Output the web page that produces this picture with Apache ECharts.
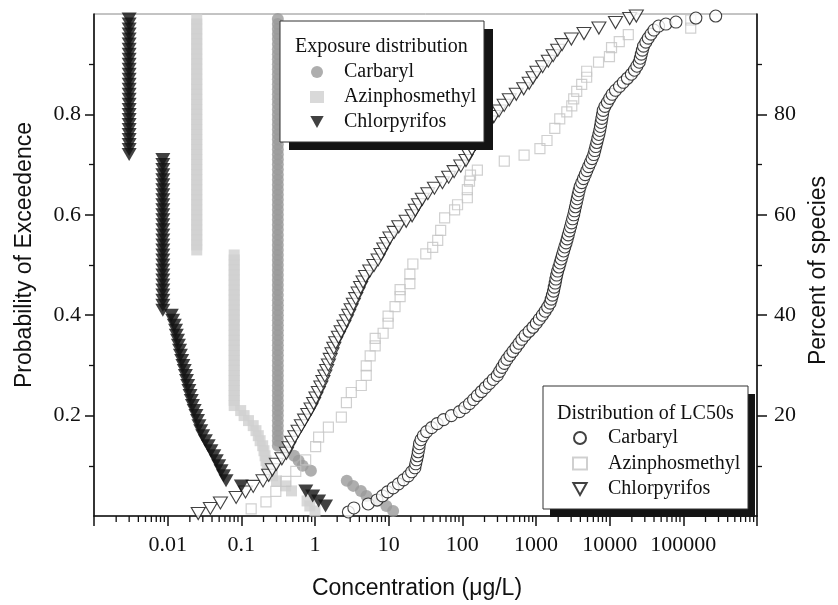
<!DOCTYPE html>
<html><head><meta charset="utf-8">
<script src="https://cdn.jsdelivr.net/npm/echarts@6/dist/echarts.min.js"></script>
<style>html,body{margin:0;padding:0;background:#fff}#c{width:838px;height:605px}</style>
</head><body><div id="c"></div>
<script>
// ---------- tick labels ----------
const xTickValues = [0.01, 0.1, 1, 10, 100, 1000, 10000, 100000];
const xTickLabels = ['0.01', '0.1', '1', '10', '100', '1000', '10000', '100000'];
const leftTickValues = [0.2, 0.4, 0.6, 0.8];
const rightTickValues = [20, 40, 60, 80];
const compoundNames = ['Carbaryl', 'Azinphosmethyl', 'Chlorpyrifos'];

// ---------- Exposure distributions: [concentration µg/L, probability of exceedence] ----------
const exposureCarbaryl = [
[0.313,0.99],[0.313,0.98],[0.313,0.97],[0.313,0.96],[0.313,0.95],[0.313,0.94],[0.313,0.93],[0.313,0.92],[0.313,0.91],
[0.313,0.9],[0.313,0.89],[0.313,0.88],[0.313,0.87],[0.313,0.86],[0.313,0.85],[0.313,0.84],[0.313,0.83],[0.313,0.82],[0.313,0.81],
[0.313,0.8],[0.313,0.79],[0.313,0.78],[0.313,0.77],[0.313,0.76],[0.313,0.75],[0.313,0.74],[0.313,0.73],[0.313,0.72],[0.313,0.71],
[0.313,0.7],[0.313,0.69],[0.313,0.68],[0.313,0.67],[0.313,0.66],[0.313,0.65],[0.313,0.64],[0.313,0.63],[0.313,0.62],[0.313,0.61],
[0.313,0.6],[0.313,0.59],[0.313,0.58],[0.313,0.57],[0.313,0.56],[0.313,0.55],[0.313,0.54],[0.313,0.53],[0.313,0.52],[0.313,0.51],
[0.313,0.5],[0.313,0.49],[0.313,0.48],[0.313,0.47],[0.313,0.46],[0.313,0.45],[0.313,0.44],[0.313,0.43],[0.313,0.42],[0.313,0.41],
[0.313,0.4],[0.313,0.39],[0.313,0.38],[0.313,0.37],[0.313,0.36],[0.313,0.35],[0.313,0.34],[0.313,0.33],[0.313,0.32],[0.313,0.31],
[0.313,0.3],[0.313,0.29],[0.313,0.28],[0.313,0.27],[0.313,0.26],[0.313,0.25],[0.313,0.24],[0.313,0.23],[0.313,0.22],[0.313,0.21],
[0.313,0.2],[0.313,0.19],[0.313,0.18],[0.313,0.17],[0.313,0.16],[0.313,0.15],[0.313,0.14],
[0.40,0.13],[0.52,0.12],[0.60,0.11],[0.68,0.10],[0.88,0.09],[2.7,0.07],[3.3,0.06],[4.2,0.05],[5.0,0.04],[7.0,0.03],[9.3,0.02],[11.5,0.01]
];
const exposureAzinphosmethyl = [
[0.0248,0.99],[0.0248,0.98],[0.0248,0.97],[0.0248,0.96],[0.0248,0.95],[0.0248,0.94],[0.0248,0.93],[0.0248,0.92],[0.0248,0.91],
[0.0248,0.9],[0.0248,0.89],[0.0248,0.88],[0.0248,0.87],[0.0248,0.86],[0.0248,0.85],[0.0248,0.84],[0.0248,0.83],[0.0248,0.82],[0.0248,0.81],
[0.0248,0.8],[0.0248,0.79],[0.0248,0.78],[0.0248,0.77],[0.0248,0.76],[0.0248,0.75],[0.0248,0.74],[0.0248,0.73],[0.0248,0.72],[0.0248,0.71],
[0.0248,0.7],[0.0248,0.69],[0.0248,0.68],[0.0248,0.67],[0.0248,0.66],[0.0248,0.65],[0.0248,0.64],[0.0248,0.63],[0.0248,0.62],[0.0248,0.61],
[0.0248,0.6],[0.0248,0.59],[0.0248,0.58],[0.0248,0.57],[0.0248,0.56],[0.0248,0.55],[0.0248,0.54],[0.0248,0.53],
[0.080,0.52],[0.080,0.51],[0.080,0.5],[0.080,0.49],[0.080,0.48],[0.080,0.47],[0.080,0.46],[0.080,0.45],[0.080,0.44],[0.080,0.43],
[0.080,0.42],[0.080,0.41],[0.080,0.4],[0.080,0.39],[0.080,0.38],[0.080,0.37],[0.080,0.36],[0.080,0.35],[0.080,0.34],[0.080,0.33],
[0.080,0.32],[0.080,0.31],[0.080,0.3],[0.080,0.29],[0.080,0.28],[0.080,0.27],[0.080,0.26],[0.080,0.25],[0.080,0.24],[0.080,0.23],[0.080,0.22],
[0.098,0.21],[0.109,0.20],[0.125,0.19],[0.145,0.18],[0.158,0.17],[0.170,0.16],[0.180,0.15],[0.195,0.14],[0.203,0.13],[0.210,0.12],
[0.216,0.11],[0.225,0.10],[0.237,0.09],[0.265,0.08],[0.30,0.07],[0.40,0.06],[0.48,0.05],[0.78,0.03],[0.85,0.02],[1.0,0.01]
];
const exposureChlorpyrifos = [
[0.003,0.99],[0.003,0.98],[0.003,0.97],[0.003,0.96],[0.003,0.95],[0.003,0.94],[0.003,0.93],[0.003,0.92],[0.003,0.91],
[0.003,0.9],[0.003,0.89],[0.003,0.88],[0.003,0.87],[0.003,0.86],[0.003,0.85],[0.003,0.84],[0.003,0.83],[0.003,0.82],[0.003,0.81],
[0.003,0.8],[0.003,0.79],[0.003,0.78],[0.003,0.77],[0.003,0.76],[0.003,0.75],[0.003,0.74],[0.003,0.73],[0.003,0.72],
[0.0086,0.71],[0.0086,0.7],[0.0086,0.69],[0.0086,0.68],[0.0086,0.67],[0.0086,0.66],[0.0086,0.65],[0.0086,0.64],[0.0086,0.63],[0.0086,0.62],
[0.0086,0.61],[0.0086,0.6],[0.0086,0.59],[0.0086,0.58],[0.0086,0.57],[0.0086,0.56],[0.0086,0.55],[0.0086,0.54],[0.0086,0.53],[0.0086,0.52],
[0.0086,0.51],[0.0086,0.5],[0.0086,0.49],[0.0086,0.48],[0.0086,0.47],[0.0086,0.46],[0.0086,0.45],[0.0086,0.44],[0.0086,0.43],[0.0086,0.42],[0.0086,0.41],
[0.0112,0.40],[0.0117,0.39],[0.0123,0.38],[0.0128,0.37],[0.0131,0.36],[0.0136,0.35],[0.014,0.34],[0.0145,0.33],[0.0149,0.32],[0.0155,0.31],
[0.0161,0.30],[0.0168,0.29],[0.0174,0.28],[0.018,0.27],[0.0187,0.26],[0.0194,0.25],[0.0201,0.24],[0.0209,0.23],[0.0217,0.22],[0.0229,0.21],
[0.0242,0.20],[0.0254,0.19],[0.0266,0.18],[0.0281,0.17],[0.0299,0.16],[0.0325,0.15],[0.0355,0.14],[0.0387,0.13],[0.0423,0.12],[0.0457,0.11],
[0.0493,0.10],[0.0531,0.09],[0.0573,0.08],[0.062,0.07],[0.10,0.06],[0.75,0.05],[0.93,0.04],[1.12,0.03],[1.39,0.02]
];

// ---------- Distributions of LC50s: [LC50 µg/L, percent of species] ----------
const lc50Carbaryl = [
[2.84,0.8],[3.37,1.6],[5.27,2.4],[6.95,3.2],[8.24,4.0],[9.64,4.8],[11.5,5.6],[13.6,6.4],[15.9,7.2],[18.5,8.0],
[20.5,8.8],[22.7,9.6],[23.3,10.4],[24.0,11.2],[24.7,12.0],[25.2,12.8],[25.8,13.6],[26.2,14.4],[27.5,15.2],[29.6,16.0],
[32.8,16.8],[38.3,17.6],[45.5,18.4],[55.7,19.2],[71.0,20.0],[91.6,20.8],[108,21.6],[125,22.4],[142,23.2],[160,24.0],
[182,24.8],[206,25.6],[233,26.4],[263,27.2],[298,28.0],[321,28.8],[346,29.6],[373,30.4],[403,31.2],[442,32.0],
[486,32.8],[535,33.6],[587,34.4],[643,35.2],[711,36.0],[805,36.8],[910,37.6],[1010,38.4],[1110,39.2],[1220,40.0],
[1330,40.8],[1440,41.6],[1550,42.4],[1610,43.2],[1670,44.0],[1730,44.8],[1770,45.6],[1820,46.4],[1860,47.2],[1910,48.0],
[1970,48.8],[2050,49.6],[2120,50.4],[2200,51.2],[2280,52.0],[2370,52.8],[2460,53.6],[2560,54.4],[2650,55.2],[2740,56.0],
[2840,56.8],[2940,57.6],[3040,58.4],[3140,59.2],[3250,60.0],[3340,60.8],[3430,61.6],[3530,62.4],[3630,63.2],[3730,64.0],
[3840,64.8],[3970,65.6],[4180,66.4],[4410,67.2],[4650,68.0],[4900,68.8],[5170,69.6],[5470,70.4],[5770,71.2],[6080,72.0],
[6280,72.8],[6480,73.6],[6690,74.4],[6900,75.2],[7130,76.0],[7330,76.8],[7500,77.6],[7660,78.4],[7830,79.2],[8000,80.0],
[8170,80.8],[8630,81.6],[9310,82.4],[10000,83.2],[10800,84.0],[12000,84.8],[13600,85.6],[15300,86.4],[17400,87.2],[19700,88.0],
[21700,88.8],[23400,89.6],[25200,90.4],[26100,91.2],[26900,92.0],[27800,92.8],[28800,93.6],[31000,94.4],[33400,95.2],[36400,96.0],
[39900,96.8],[46200,97.6],[58000,98.0],[79400,98.4],[148000,99.2],[275000,99.6]
];
const lc50Azinphosmethyl = [
[0.136,1.4],[0.216,2.8],[0.294,4.9],[0.402,6.9],[0.548,8.9],[0.747,11.2],[1.02,13.8],[1.12,15.7],[1.52,17.7],[2.28,19.7],
[2.67,22.6],[3.11,24.6],[4.25,26.0],[4.96,28.0],[4.96,29.9],[5.61,31.9],[6.56,33.9],[6.56,35.4],[8.41,36.4],[9.82,38.4],
[9.82,39.8],[12.2,41.7],[14.3,43.7],[14.3,45.1],[19.4,46.3],[19.4,48.2],[21.3,50.2],[31.9,52.2],[39.6,53.5],[46.3,54.9],
[50.8,56.9],[57.5,59.4],[78.5,61.0],[86.1,62.0],[117,63.4],[117,65.0],[125,66.7],[129,67.9],[160,68.9],[371,70.7],
[689,71.9],[1130,73.2],[1410,74.8],[1800,77.2],[2100,79.1],[2620,80.5],[3060,81.7],[3250,83.1],[3570,84.6],[4170,86.0],
[4870,87.4],[4870,88.6],[7060,90.4],[9930,91.5],[10600,93.3],[13500,94.5],[17900,95.9],[126000,97.2],[126000,98.8]
];
const lc50Chlorpyrifos = [
[0.026,0.5],[0.038,1.5],[0.052,2.6],[0.085,3.7],[0.114,4.8],[0.145,5.9],[0.197,7.0],[0.235,8.1],[0.264,9.2],[0.299,10.3],
[0.355,11.4],[0.41,12.5],[0.444,13.6],[0.481,14.7],[0.532,15.8],[0.589,16.9],[0.653,18.0],[0.722,19.1],[0.798,20.2],[0.883,21.3],
[0.957,22.4],[1.03,23.5],[1.11,24.6],[1.20,25.7],[1.28,26.8],[1.36,27.9],[1.44,29.0],[1.52,30.1],[1.61,31.2],[1.70,32.3],
[1.80,33.4],[1.91,34.5],[2.08,35.6],[2.26,36.7],[2.47,37.8],[2.67,38.9],[2.87,40.0],[3.09,41.1],[3.32,42.2],[3.57,43.3],
[3.85,44.4],[4.16,45.5],[4.49,46.6],[4.86,47.7],[5.54,48.8],[6.31,49.9],[7.19,51.0],[7.85,52.1],[8.57,53.2],[9.35,54.3],
[10.4,55.4],[11.9,56.5],[13.7,57.6],[17.3,58.7],[20.8,59.8],[23.0,60.9],[25.4,62.0],[28.6,63.1],[34.0,64.2],[41.8,65.3],
[53.7,66.4],[65.2,67.5],[77.3,68.6],[95.3,69.7],[112,70.8],[122,71.9],[135,73.0],[151,74.1],[169,75.2],[189,76.3],
[213,77.4],[239,78.5],[269,79.6],[315,80.7],[370,81.8],[434,82.9],[540,84.0],[681,85.1],[809,86.2],[912,87.3],
[1030,88.4],[1230,89.5],[1470,90.6],[1710,91.7],[1970,92.8],[2260,93.9],[3020,95.0],[4480,96.1],[7140,97.2],[12000,98.3],
[18700,99.1],[23000,99.6]
];

// ---------- chart ----------
const serif = 'Liberation Serif';
const sans = 'Liberation Sans';
const ink = '#111111';
const downTri = 'path://M0,0L10,0L5,9Z';

// minor log ticks (2..9 within each decade of the axis range)
const minorTicks = [];
for (let d = -3; d <= 5; d++) for (let k = 2; k <= 9; k++) minorTicks.push([k * Math.pow(10, d), 0]);

const chart = echarts.init(document.getElementById('c'), null, {renderer: 'canvas'});
const option = {
  animation: false,
  backgroundColor: '#ffffff',
  grid: {left: 94, right: 76, top: 14, bottom: 83, show: true, borderColor: '#888', borderWidth: 1, backgroundColor: 'transparent'},
  xAxis: {
    type: 'log', logBase: 10, min: 0.001, max: 1000000, interval: 1,
    axisLine: {show: true, onZero: false, lineStyle: {color: ink, width: 1.6}},
    axisTick: {show: true, length: 10, lineStyle: {color: ink, width: 1.5}},
    axisLabel: {margin: 18, fontFamily: serif, fontSize: 22, color: ink,
      formatter: v => { const i = xTickValues.findIndex(t => Math.abs(Math.log10(t) - Math.log10(v)) < 1e-6); return i < 0 ? '' : xTickLabels[i]; }},
    splitLine: {show: false},
    name: 'Concentration (μg/L)', nameLocation: 'middle', nameGap: 61,
    nameTextStyle: {fontFamily: sans, fontSize: 23, color: ink, padding: [0, 17, 0, 0]}
  },
  yAxis: [
    {
      type: 'value', position: 'left', min: 0, max: 1, interval: 0.2,
      axisLine: {show: true, lineStyle: {color: ink, width: 1.6}},
      axisTick: {show: true, length: 9, lineStyle: {color: ink, width: 1.5}, customValues: leftTickValues},
      minorTick: {show: true, splitNumber: 2, length: 5, lineStyle: {color: ink, width: 1.3}},
      splitLine: {show: false}, minorSplitLine: {show: false},
      axisLabel: {margin: 13, fontFamily: serif, fontSize: 22, color: ink, customValues: leftTickValues,
        formatter: v => (v > 0.01 && v < 0.99) ? v.toFixed(1) : ''},
      name: 'Probability of Exceedence', nameLocation: 'middle', nameGap: 58, nameRotate: 90,
      nameTextStyle: {fontFamily: sans, fontSize: 23, color: ink, padding: [0, 0, 0, 20]}
    },
    {
      type: 'value', position: 'right', min: 0, max: 100, interval: 20,
      axisLine: {show: true, lineStyle: {color: ink, width: 1.6}},
      axisTick: {show: true, length: 10, lineStyle: {color: ink, width: 1.5}, customValues: rightTickValues},
      minorTick: {show: true, splitNumber: 2, length: 5, lineStyle: {color: ink, width: 1.3}},
      splitLine: {show: false}, minorSplitLine: {show: false},
      axisLabel: {margin: 17, fontFamily: serif, fontSize: 22, color: ink, customValues: rightTickValues,
        formatter: v => (v > 1 && v < 99) ? String(v) : ''},
      name: 'Percent of species', nameLocation: 'middle', nameGap: 50, nameRotate: 90,
      nameTextStyle: {fontFamily: sans, fontSize: 23, color: ink, padding: [0, 11, 0, 0]}
    }
  ],
  legend: [
    {
      data: compoundNames.map(n => 'E|' + n), orient: 'vertical', left: 310, top: 62,
      itemWidth: 14, itemHeight: 12, itemGap: 5, padding: 0, z: 20, selectedMode: false,
      formatter: n => n.split('|')[1],
      textStyle: {fontFamily: serif, fontSize: 20, color: ink, lineHeight: 20, padding: [0, 0, 0, 15]}
    },
    {
      data: compoundNames.map(n => 'L|' + n), orient: 'vertical', left: 572, top: 428,
      itemWidth: 14, itemHeight: 12, itemGap: 5.5, padding: 0, z: 20, selectedMode: false,
      formatter: n => n.split('|')[1],
      textStyle: {fontFamily: serif, fontSize: 20, color: ink, lineHeight: 20, padding: [0, 0, 0, 16]}
    }
  ],
  graphic: [
    {type: 'rect', z: 10, shape: {x: 289, y: 29, width: 204, height: 121}, style: {fill: '#141414'}},
    {type: 'rect', z: 11, shape: {x: 280, y: 21, width: 204, height: 121}, style: {fill: '#fff', stroke: '#333', lineWidth: 1}},
    {type: 'text', z: 21, x: 295, y: 47, style: {text: 'Exposure distribution', font: '20px "Liberation Serif"', fill: ink, verticalAlign: 'middle'}},
    {type: 'rect', z: 10, shape: {x: 550, y: 394, width: 205, height: 123}, style: {fill: '#141414'}},
    {type: 'rect', z: 11, shape: {x: 543, y: 386, width: 205, height: 123}, style: {fill: '#fff', stroke: '#333', lineWidth: 1}},
    {type: 'text', z: 21, x: 557, y: 414, style: {text: 'Distribution of LC50s', font: '20px "Liberation Serif"', fill: ink, verticalAlign: 'middle'}}
  ],
  series: [
    {
      type: 'custom', name: 'minor', silent: true, clip: false, xAxisIndex: 0, yAxisIndex: 0,
      data: minorTicks,
      renderItem: (params, api) => {
        const p = api.coord([api.value(0), 0]);
        return {type: 'line', shape: {x1: p[0], y1: p[1], x2: p[0], y2: p[1] + 6}, style: {stroke: ink, lineWidth: 1.3}};
      }
    },
    {type: 'scatter', name: 'E|Azinphosmethyl', yAxisIndex: 0, symbol: 'rect', symbolSize: 11,
      itemStyle: {color: '#cfcfcf'}, data: exposureAzinphosmethyl},
    {type: 'scatter', name: 'E|Carbaryl', yAxisIndex: 0, symbol: 'circle', symbolSize: 12,
      itemStyle: {color: '#9a9a9a'}, data: exposureCarbaryl},
    {type: 'scatter', name: 'L|Azinphosmethyl', yAxisIndex: 1, symbol: 'rect', symbolSize: 10,
      itemStyle: {color: 'rgba(255,255,255,0)', borderColor: '#c4c4c4', borderWidth: 1.2}, data: lc50Azinphosmethyl},
    {type: 'scatter', name: 'L|Carbaryl', yAxisIndex: 1, symbol: 'circle', symbolSize: 12,
      itemStyle: {color: '#ffffff', borderColor: ink, borderWidth: 1.1}, data: lc50Carbaryl},
    {type: 'scatter', name: 'L|Chlorpyrifos', yAxisIndex: 1, symbol: downTri, symbolSize: [14, 12],
      itemStyle: {color: '#ffffff', borderColor: ink, borderWidth: 1.1}, data: lc50Chlorpyrifos},
    {type: 'scatter', name: 'E|Chlorpyrifos', yAxisIndex: 0, symbol: downTri, symbolSize: [15, 13],
      itemStyle: {color: ink}, data: exposureChlorpyrifos}
  ]
};
chart.setOption(option);
</script>
</body></html>
